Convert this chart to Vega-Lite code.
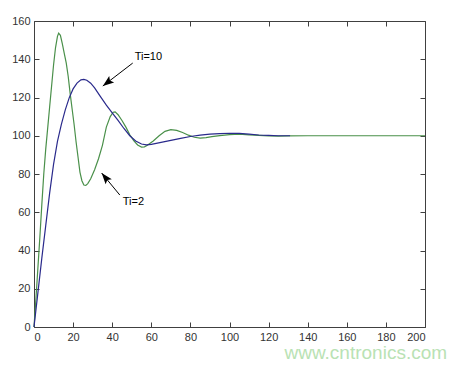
{
  "$schema": "https://vega.github.io/schema/vega-lite/v6.json",
  "autosize": {"type": "none"},
  "padding": {"left": 34, "top": 21, "right": 42, "bottom": 42},
  "width": 391,
  "height": 306,
  "background": "white",
  "view": {"stroke": null},
  "config": {
    "axis": {
      "grid": false,
      "domainColor": "#404040",
      "tickColor": "#404040",
      "labelColor": "#333333",
      "labelFont": "Liberation Sans",
      "labelFontSize": 11,
      "tickSize": -5,
      "title": null
    }
  },
  "datasets": {
    "curves": [
      {"t": 0, "y": 0, "s": "Ti=2"}, {"t": 1, "y": 15, "s": "Ti=2"}, {"t": 2, "y": 31, "s": "Ti=2"}, {"t": 3, "y": 47, "s": "Ti=2"},
      {"t": 4, "y": 64, "s": "Ti=2"}, {"t": 5, "y": 80, "s": "Ti=2"}, {"t": 6, "y": 93, "s": "Ti=2"}, {"t": 7, "y": 104, "s": "Ti=2"},
      {"t": 8, "y": 115, "s": "Ti=2"}, {"t": 9, "y": 126, "s": "Ti=2"}, {"t": 10, "y": 137, "s": "Ti=2"}, {"t": 11, "y": 146, "s": "Ti=2"},
      {"t": 12, "y": 152, "s": "Ti=2"}, {"t": 12.6, "y": 153.6, "s": "Ti=2"}, {"t": 13.5, "y": 152.5, "s": "Ti=2"}, {"t": 14.5, "y": 148, "s": "Ti=2"},
      {"t": 15.5, "y": 143, "s": "Ti=2"}, {"t": 16.5, "y": 138, "s": "Ti=2"}, {"t": 17.5, "y": 131, "s": "Ti=2"}, {"t": 18.5, "y": 122, "s": "Ti=2"},
      {"t": 19.5, "y": 114, "s": "Ti=2"}, {"t": 20.5, "y": 106, "s": "Ti=2"}, {"t": 21.5, "y": 97, "s": "Ti=2"}, {"t": 22.5, "y": 89, "s": "Ti=2"},
      {"t": 23.5, "y": 81, "s": "Ti=2"}, {"t": 24.5, "y": 76.5, "s": "Ti=2"}, {"t": 25.5, "y": 74.2, "s": "Ti=2"}, {"t": 26.5, "y": 74, "s": "Ti=2"},
      {"t": 27.5, "y": 75, "s": "Ti=2"}, {"t": 29, "y": 77.5, "s": "Ti=2"}, {"t": 31, "y": 82.2, "s": "Ti=2"}, {"t": 33, "y": 88, "s": "Ti=2"},
      {"t": 35, "y": 95, "s": "Ti=2"}, {"t": 37, "y": 104.5, "s": "Ti=2"}, {"t": 39, "y": 110, "s": "Ti=2"}, {"t": 40.5, "y": 112.3, "s": "Ti=2"},
      {"t": 41.5, "y": 112.5, "s": "Ti=2"}, {"t": 43, "y": 111, "s": "Ti=2"}, {"t": 45, "y": 108, "s": "Ti=2"}, {"t": 47, "y": 104.5, "s": "Ti=2"},
      {"t": 49, "y": 100.5, "s": "Ti=2"}, {"t": 51, "y": 97.5, "s": "Ti=2"}, {"t": 53, "y": 95.2, "s": "Ti=2"}, {"t": 55, "y": 94.1, "s": "Ti=2"},
      {"t": 56.5, "y": 94.2, "s": "Ti=2"}, {"t": 58, "y": 95, "s": "Ti=2"}, {"t": 61, "y": 97.3, "s": "Ti=2"}, {"t": 64, "y": 100, "s": "Ti=2"},
      {"t": 67, "y": 102.3, "s": "Ti=2"}, {"t": 70, "y": 103.2, "s": "Ti=2"}, {"t": 73, "y": 102.8, "s": "Ti=2"}, {"t": 76, "y": 101.7, "s": "Ti=2"},
      {"t": 79, "y": 100.3, "s": "Ti=2"}, {"t": 82, "y": 99.2, "s": "Ti=2"}, {"t": 85, "y": 98.8, "s": "Ti=2"}, {"t": 88, "y": 99, "s": "Ti=2"},
      {"t": 91, "y": 99.5, "s": "Ti=2"}, {"t": 95, "y": 100.1, "s": "Ti=2"}, {"t": 100, "y": 100.6, "s": "Ti=2"}, {"t": 105, "y": 100.8, "s": "Ti=2"},
      {"t": 110, "y": 100.5, "s": "Ti=2"}, {"t": 115, "y": 100.2, "s": "Ti=2"}, {"t": 120, "y": 99.9, "s": "Ti=2"}, {"t": 125, "y": 99.8, "s": "Ti=2"},
      {"t": 130, "y": 99.9, "s": "Ti=2"}, {"t": 140, "y": 100, "s": "Ti=2"}, {"t": 150, "y": 100, "s": "Ti=2"}, {"t": 200, "y": 100, "s": "Ti=2"},
      {"t": 0, "y": 0, "s": "Ti=10"}, {"t": 2, "y": 18, "s": "Ti=10"}, {"t": 4, "y": 36, "s": "Ti=10"}, {"t": 6, "y": 53, "s": "Ti=10"},
      {"t": 8, "y": 70, "s": "Ti=10"}, {"t": 10, "y": 85, "s": "Ti=10"}, {"t": 12, "y": 97, "s": "Ti=10"}, {"t": 14, "y": 106, "s": "Ti=10"},
      {"t": 16, "y": 113.5, "s": "Ti=10"}, {"t": 18, "y": 119.8, "s": "Ti=10"}, {"t": 20, "y": 124.5, "s": "Ti=10"}, {"t": 22, "y": 127.5, "s": "Ti=10"},
      {"t": 24, "y": 129.2, "s": "Ti=10"}, {"t": 25.5, "y": 129.5, "s": "Ti=10"}, {"t": 27, "y": 129, "s": "Ti=10"}, {"t": 29, "y": 127.5, "s": "Ti=10"},
      {"t": 31, "y": 125, "s": "Ti=10"}, {"t": 34, "y": 120.5, "s": "Ti=10"}, {"t": 37, "y": 116, "s": "Ti=10"}, {"t": 40, "y": 112, "s": "Ti=10"},
      {"t": 43, "y": 108, "s": "Ti=10"}, {"t": 46, "y": 103.8, "s": "Ti=10"}, {"t": 49, "y": 100, "s": "Ti=10"}, {"t": 52, "y": 97.3, "s": "Ti=10"},
      {"t": 55, "y": 95.7, "s": "Ti=10"}, {"t": 57.5, "y": 95.2, "s": "Ti=10"}, {"t": 60, "y": 95.5, "s": "Ti=10"}, {"t": 65, "y": 96.5, "s": "Ti=10"},
      {"t": 70, "y": 97.6, "s": "Ti=10"}, {"t": 75, "y": 98.6, "s": "Ti=10"}, {"t": 80, "y": 99.6, "s": "Ti=10"}, {"t": 85, "y": 100.3, "s": "Ti=10"},
      {"t": 90, "y": 100.8, "s": "Ti=10"}, {"t": 95, "y": 101.1, "s": "Ti=10"}, {"t": 100, "y": 101.3, "s": "Ti=10"}, {"t": 105, "y": 101.2, "s": "Ti=10"},
      {"t": 110, "y": 100.8, "s": "Ti=10"}, {"t": 115, "y": 100.4, "s": "Ti=10"}, {"t": 120, "y": 100.2, "s": "Ti=10"}, {"t": 125, "y": 100, "s": "Ti=10"},
      {"t": 131, "y": 100, "s": "Ti=10"}
    ],
    "notes": [
      {"label": "Ti=10", "tailX": 50.5, "tailY": 138, "headX": 35.2, "headY": 126, "angle": 232.5, "labelX": 51.5, "labelY": 141.2},
      {"label": "Ti=2", "tailX": 43.9, "tailY": 69, "headX": 34.6, "headY": 80.5, "angle": 320.7, "labelX": 45.4, "labelY": 65.4}
    ],
    "mark": [
      {"text": "www.cntronics.com", "x": 169.7, "y": -13.6}
    ]
  },
  "resolve": {"axis": {"x": "independent", "y": "independent"}},
  "layer": [
    {
      "data": {"name": "curves"},
      "transform": [{"filter": "datum.s === 'Ti=2'"}],
      "mark": {"type": "line", "color": "#4a904a", "strokeWidth": 1.2},
      "encoding": {
        "x": {"field": "t", "type": "quantitative", "scale": {"domain": [0, 200], "nice": false},
              "axis": {"orient": "bottom", "values": [0, 20, 40, 60, 80, 100, 120, 140, 160, 180, 200], "labelPadding": 9}},
        "y": {"field": "y", "type": "quantitative", "scale": {"domain": [0, 160], "nice": false},
              "axis": {"orient": "left", "values": [0, 20, 40, 60, 80, 100, 120, 140, 160], "labelPadding": 9}},
        "order": {"field": "t", "type": "quantitative"}
      }
    },
    {
      "data": {"name": "curves"},
      "transform": [{"filter": "datum.s === 'Ti=10'"}],
      "mark": {"type": "line", "color": "#2a2a8c", "strokeWidth": 1.2},
      "encoding": {
        "x": {"field": "t", "type": "quantitative",
              "axis": {"orient": "top", "labels": false, "values": [0, 20, 40, 60, 80, 100, 120, 140, 160, 180, 200]}},
        "y": {"field": "y", "type": "quantitative",
              "axis": {"orient": "right", "labels": false, "values": [0, 20, 40, 60, 80, 100, 120, 140, 160]}},
        "order": {"field": "t", "type": "quantitative"}
      }
    },
    {
      "data": {"name": "notes"},
      "mark": {"type": "rule", "color": "black", "strokeWidth": 1},
      "encoding": {
        "x": {"field": "tailX", "type": "quantitative", "axis": null},
        "y": {"field": "tailY", "type": "quantitative", "axis": null},
        "x2": {"field": "headX"},
        "y2": {"field": "headY"}
      }
    },
    {
      "data": {"name": "notes"},
      "mark": {"type": "point", "shape": "M0,0 L-0.36,1 L0,0.8 L0.36,1 Z", "filled": true, "color": "black", "opacity": 1, "size": 500},
      "encoding": {
        "x": {"field": "headX", "type": "quantitative", "axis": null},
        "y": {"field": "headY", "type": "quantitative", "axis": null},
        "angle": {"field": "angle", "type": "quantitative", "scale": null}
      }
    },
    {
      "data": {"name": "notes"},
      "mark": {"type": "text", "align": "left", "baseline": "middle", "font": "Liberation Sans", "fontSize": 11, "color": "black"},
      "encoding": {
        "x": {"field": "labelX", "type": "quantitative", "axis": null},
        "y": {"field": "labelY", "type": "quantitative", "axis": null},
        "text": {"field": "label"}
      }
    },
    {
      "data": {"name": "mark"},
      "mark": {"type": "text", "align": "center", "baseline": "middle", "font": "Liberation Sans", "fontSize": 19, "color": "#b9e2b4"},
      "encoding": {
        "x": {"field": "x", "type": "quantitative", "axis": null},
        "y": {"field": "y", "type": "quantitative", "axis": null},
        "text": {"field": "text"}
      }
    }
  ]
}
